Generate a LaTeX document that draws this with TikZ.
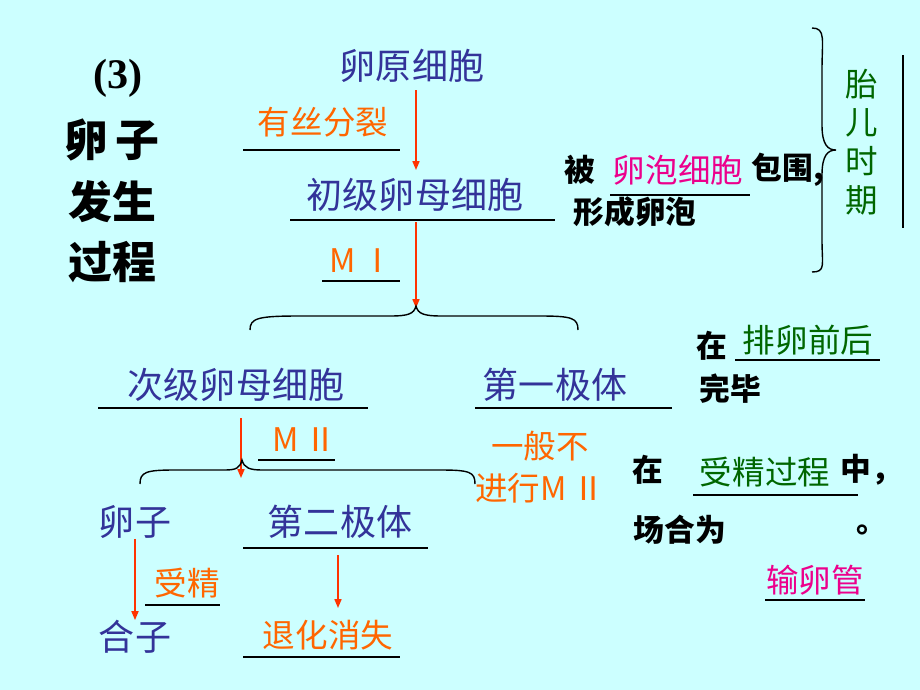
\documentclass[tikz,border=0pt]{standalone}
\usepackage{fontspec}
\setmainfont{Liberation Serif}
\newfontfamily\cjk{Noto Sans CJK SC}
\usetikzlibrary{decorations.pathreplacing,arrows.meta}
\definecolor{bgc}{HTML}{CCFFFF}
\definecolor{dblue}{HTML}{333399}
\definecolor{orng}{HTML}{FF6600}
\definecolor{arrc}{HTML}{FF3300}
\definecolor{dgreen}{HTML}{006600}
\tikzset{
  blue/.style={text=dblue, font=\cjk\fontsize{20.5}{20}\selectfont, inner sep=0pt},
  org/.style={text=orng, font=\cjk\fontsize{18.5}{18}\selectfont, inner sep=0pt},
  blk/.style={text=black, font=\cjk\bfseries\fontsize{17.5}{17}\selectfont, inner sep=0pt},
  big/.style={text=black, font=\cjk\bfseries\fontsize{25}{26}\selectfont, inner sep=0pt},
  grn/.style={text=dgreen, font=\cjk\fontsize{18.5}{18}\selectfont, inner sep=0pt},
  mag/.style={text=magenta, font=\cjk\fontsize{18.5}{18}\selectfont, inner sep=0pt},
  ul/.style={draw, thick},
  arr/.style={draw=arrc, thick, -{Triangle[length=5pt,width=4pt]}},
}
\begin{document}
\begin{tikzpicture}[x=0.02cm,y=-0.02cm]
\fill[bgc] (0,0) rectangle (920,690);
\useasboundingbox (0,0) rectangle (920,690);
% title
\node[big, font=\bfseries\fontsize{24}{24}\selectfont] (t0) at (118,78) {(3)};
\node[big] (t1) at (112,140) {卵\,子};
\node[big] (t2) at (112,202) {发生};
\node[big] (t3) at (112,262) {过程};
% first stage
\node[blue] (yuan) at (412,66) {卵原细胞};
\node[org] (ysf) at (323,122) {有丝分裂};
\draw[ul] (243,150) -- (400,150);
\node[blue] (chuji) at (415,195) {初级卵母细胞};
\draw[ul] (290,220) -- (555,220);
\draw[arr] (416,90) -- (416,170);
\node[blk] (bei) at (580,170) {被};
\node[mag] (lpxb) at (678,170) {卵泡细胞};
\node[blk] (bw) at (788,170) {包围,};
\draw[ul] (610,195) -- (750,195);
\node[blk] (xclp) at (635,212) {形成卵泡};
\draw[thick] (812,28) .. controls (826,28) and (822,40) .. (822,70) -- (822,125) .. controls (822,145) and (828,150) .. (836,150)
  .. controls (828,150) and (822,155) .. (822,175) -- (822,240) .. controls (822,265) and (826,272) .. (812,272);
\node[grn, align=center, font=\cjk\fontsize{18.5}{22}\selectfont] (tes) at (862,142) {胎\\儿\\时\\期};
\draw[thick] (903,55) -- (903,228);
% MI
\node[org] (m1) at (362,261) {M\,Ⅰ};
\draw[ul] (322,281) -- (400,281);
\coordinate (tip1) at (416,308);
\draw[arr] (416,222) -- (tip1);
\draw[thick] (250,330) .. controls (250,318) and (258,316) .. (300,316) -- (390,316) .. controls (408,316) and (414,314) .. (416,306)
  .. controls (418,314) and (424,316) .. (442,316) -- (540,316) .. controls (572,316) and (578,318) .. (578,330);
% second stage
\node[blue] (ciji) at (236,385) {次级卵母细胞};
\draw[ul] (98,408) -- (368,408);
\node[blue] (dyjt) at (555,385) {第一极体};
\draw[ul] (475,408) -- (672,408);
\node[blk] (zai1) at (712,346) {在};
\node[grn] (plqh) at (808,340) {排卵前后};
\draw[ul] (735,360) -- (880,360);
\node[blk] (wb) at (730,389) {完毕};
\node[org, align=center, font=\cjk\fontsize{18.5}{24}\selectfont] (ybbj) at (540,467) {一般不\\进行M\,Ⅱ};
% MII
\node[org] (m2) at (305,440) {M\,Ⅱ};
\draw[ul] (258,460) -- (335,460);
\coordinate (tip2) at (241,478);
\draw[arr] (241,418) -- (tip2);
\draw[thick] (140,484) .. controls (140,472) and (146,470) .. (175,470) -- (225,470) .. controls (236,470) and (240,468) .. (242,460)
  .. controls (244,468) and (250,470) .. (262,470) -- (440,470) .. controls (470,470) and (475,472) .. (475,484);
\node[blk] (zai2) at (648,470) {在};
\node[grn] (sjgc) at (765,472) {受精过程};
\node[blk] (zhong) at (871,470) {中，};
\draw[ul] (693,495) -- (858,495);
\node[blk] (chh) at (680,530) {场合为};
\node[blk] (ju) at (872,530) {。};
\node[mag] (slg) at (815,580) {输卵管};
\draw[ul] (765,600) -- (865,600);
% third stage
\node[blue] (luanzi) at (135,522) {卵子};
\node[blue] (dejt) at (340,522) {第二极体};
\draw[ul] (243,548) -- (428,548);
\node[org] (sj) at (187,583) {受精};
\draw[ul] (145,605) -- (220,605);
\node[blue] (hezi) at (135,637) {合子};
\node[org] (thxs) at (328,635) {退化消失};
\draw[ul] (243,657) -- (400,657);
\draw[arr] (luanzi) -- (hezi);
\draw[arr] (338,555) -- (338,608);
\end{tikzpicture}
\end{document}
